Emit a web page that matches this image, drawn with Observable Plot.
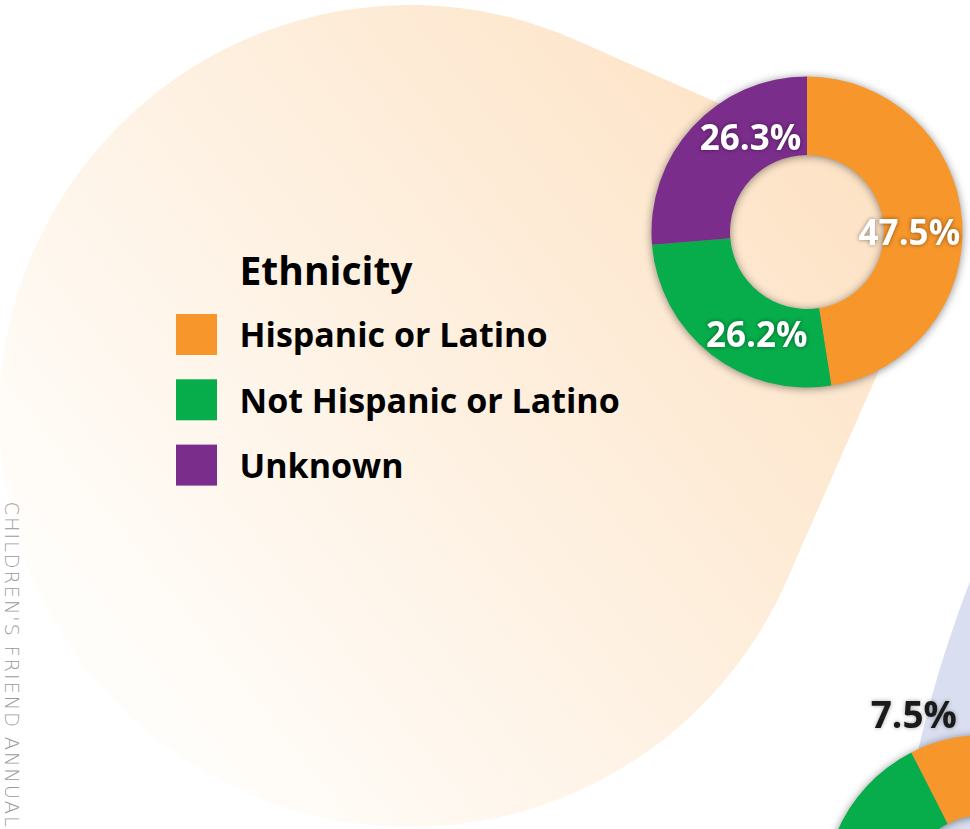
<!DOCTYPE html>
<html>
<head>
<meta charset="utf-8">
<script src="https://cdn.jsdelivr.net/npm/d3@7"></script>
<script src="https://cdn.jsdelivr.net/npm/@observablehq/plot@0.6"></script>
<style>
  html, body { margin: 0; padding: 0; background: #ffffff; overflow: hidden; }
  #chart { width: 970px; height: 829px; }
</style>
</head>
<body>
<div id="chart"></div>
<script>
// ---------------- DATA ----------------
const legendTitle = "Ethnicity";
const categories = ["Hispanic or Latino", "Not Hispanic or Latino", "Unknown"];
const values = [47.5, 26.2, 26.3];
const valueLabels = ["47.5%", "26.2%", "26.3%"];
const colors = ["#f7962b", "#07ad4b", "#7b2d8b"];

// next chart on the page (only partly visible at the bottom-right corner)
const nextKeys = ["Next chart – hidden part", "Next chart – green", "Next chart – orange"];
const nextValues = [70.0, 22.5, 7.5];
const nextLabels = ["", "", "7.5%"];
const nextColors = ["#7b2d8b", "#07ad4b", "#f7962b"];

const sideCaption = "CHILDREN'S FRIEND ANNUAL";

// ---------------- LAYOUT ----------------
const W = 970, H = 829;
const donut1 = {cx: 807, cy: 232, outer: 155.5, inner: 77, labelR: 116.25};
const donut2 = {cx: 984, cy: 895, outer: 160, inner: 80, labelR: 200};
const labelNudge1 = [[-14, 10.5], [21, 12], [28.5, -15]];
const labelNudge2 = [[0, 0], [0, 0], [-24, 15]];
const blob1 = {cx: 410, cy: 416, r: 411, tipX: 951, tipY: 206};
const blob2 = {cx: 2114, cy: 1025, r: 1227};
const legend = {x: 176, textX: 239, top: 314, step: 65.3, size: 41, titleY: 272.5};

// ---------------- GEOMETRY HELPERS ----------------
function sliceAngles(keys, vals) {
  const total = d3.sum(vals);
  let acc = 0;
  return keys.map((k, i) => {
    const a0 = acc / total * 2 * Math.PI;
    acc += vals[i];
    const a1 = acc / total * 2 * Math.PI;
    return {key: k, i, a0, a1, mid: (a0 + a1) / 2};
  });
}
function labelRows(slices, c, labels, nudges) {
  return slices.map(s => ({
    text: labels[s.i],
    px: c.cx + c.labelR * Math.sin(s.mid) + nudges[s.i][0],
    py: c.cy - c.labelR * Math.cos(s.mid) + nudges[s.i][1]
  })).filter(d => d.text);
}

const slices1 = sliceAngles(categories, values);
const slices2 = sliceAngles(nextKeys, nextValues);
const labels1 = labelRows(slices1, donut1, valueLabels, labelNudge1);
const labels2 = labelRows(slices2, donut2, nextLabels, labelNudge2);
const colorMap = new Map([...categories, ...nextKeys].map((k, i) => [k, [...colors, ...nextColors][i]]));

const legendRows = categories.map((c, i) => ({
  key: c,
  y1: legend.top + i * legend.step,
  y2: legend.top + i * legend.step + legend.size,
  ty: legend.top + i * legend.step + legend.size / 2 + 1.6
}));

// background shapes (decoration) drawn through Plot's scales
function backgroundMark(index, {x, y}) {
  const g = d3.create("svg:g");
  const defs = g.append("defs");
  const grad = defs.append("linearGradient").attr("id", "peachGrad")
    .attr("gradientUnits", "userSpaceOnUse")
    .attr("x1", x(150)).attr("y1", y(700)).attr("x2", x(860)).attr("y2", y(140));
  grad.append("stop").attr("offset", 0).attr("stop-color", "#fffdfa");
  grad.append("stop").attr("offset", 1).attr("stop-color", "#fde2c4");

  g.append("circle")
    .attr("cx", x(blob2.cx)).attr("cy", y(blob2.cy)).attr("r", blob2.r)
    .attr("fill", "#d9dff0");

  const dx = blob1.tipX - blob1.cx, dy = blob1.tipY - blob1.cy;
  const d = Math.hypot(dx, dy);
  const base = Math.atan2(dy, dx), off = Math.acos(blob1.r / d);
  const p1 = [blob1.cx + blob1.r * Math.cos(base - off), blob1.cy + blob1.r * Math.sin(base - off)];
  const p2 = [blob1.cx + blob1.r * Math.cos(base + off), blob1.cy + blob1.r * Math.sin(base + off)];
  const path = `M${x(blob1.tipX)},${y(blob1.tipY)} L${x(p1[0])},${y(p1[1])} ` +
    `A${blob1.r},${blob1.r} 0 1 0 ${x(p2[0])},${y(p2[1])} Z`;
  g.append("path").attr("d", path).attr("fill", "url(#peachGrad)");
  return g.node();
}

// donut ring drawn with d3.arc, positioned and coloured through Plot's scales
function donutMark(slices, c) {
  return (index, scales) => {
    const col = scales.color || (k => colorMap.get(k));
    const g = d3.create("svg:g")
      .attr("transform", `translate(${scales.x(c.cx)},${scales.y(c.cy)})`)
      .style("filter", "drop-shadow(0px 1px 4px rgba(0,0,0,0.45))");
    const arc = d3.arc().innerRadius(c.inner).outerRadius(c.outer);
    g.selectAll("path").data(slices).join("path")
      .attr("d", s => arc({startAngle: s.a0, endAngle: s.a1}))
      .attr("fill", s => col(s.key));
    return g.node();
  };
}

const chart = Plot.plot({
  width: W,
  height: H,
  margin: 0,
  x: {domain: [0, W], range: [0, W], axis: null},
  y: {domain: [0, H], range: [0, H], axis: null},
  color: {type: "ordinal", domain: [...categories, ...nextKeys], range: [...colors, ...nextColors]},
  style: {background: "transparent", overflow: "hidden", fontFamily: "Open Sans"},
  marks: [
    backgroundMark,
    donutMark(slices2, donut2),
    donutMark(slices1, donut1),
    Plot.text(labels1, {x: "px", y: "py", text: "text", fill: "#ffffff", fontSize: 35, fontWeight: "bold",
      fontFamily: "Open Sans"}),
    Plot.text(labels2, {x: "px", y: "py", text: "text", fill: "#1a1a1a", fontSize: 37, fontWeight: "bold",
      fontFamily: "Open Sans"}),
    // legend
    Plot.text([legendTitle], {x: () => legend.textX, y: () => legend.titleY, text: d => d, textAnchor: "start",
      fill: "#000", fontSize: 39, fontWeight: "bold", fontFamily: "Open Sans"}),
    Plot.rect(legendRows, {x1: () => legend.x, x2: () => legend.x + legend.size, y1: "y1", y2: "y2", fill: "key"}),
    Plot.text(legendRows, {x: () => legend.textX, y: "ty", text: "key", textAnchor: "start",
      fill: "#000", fontSize: 34, fontWeight: "bold", fontFamily: "Open Sans"}),
    // vertical side caption
    Plot.text([sideCaption], {x: () => 11, y: () => 501, text: d => d, rotate: 90, textAnchor: "start",
      fill: "#9a9a9a", fontSize: 19.5, fontWeight: 200, fontFamily: "DejaVu Sans"})
  ]
});

const svg = d3.select(chart);
svg.selectAll("text").filter(function () { return valueLabels.includes(this.textContent); })
  .style("filter", "drop-shadow(0px 0px 2px rgba(0,0,0,0.45))");
svg.selectAll("text").filter(function () { return nextLabels.includes(this.textContent) && this.textContent; })
  .style("filter", "drop-shadow(0px 0px 2px rgba(0,0,0,0.35))");
svg.selectAll("text").filter(function () { return this.textContent === sideCaption; })
  .style("letter-spacing", "1.8px");
document.getElementById("chart").appendChild(chart);
</script>
</body>
</html>
